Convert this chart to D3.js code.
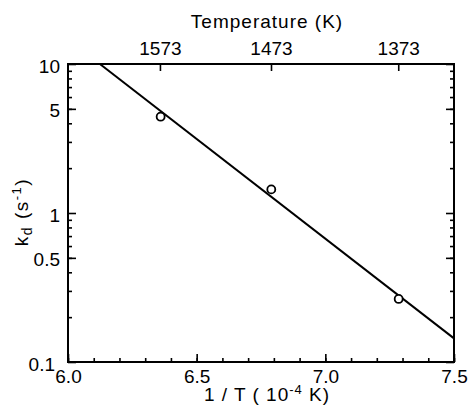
<!DOCTYPE html>
<html>
<head>
<meta charset="utf-8">
<script src="https://cdn.jsdelivr.net/npm/d3@7"></script>
<style>
  body { margin: 0; background: #fff; }
  svg { display: block; font-family: "Liberation Sans", Arial, sans-serif; }
</style>
</head>
<body>
<div id="chart"></div>
<script>
// measured points: 1/T (10^-4 K^-1) and kd (s^-1)
const invT = [6.36, 6.79, 7.285];
const kd = [4.43, 1.44, 0.265];

// fitted line end points
const fitInvT = [6.124, 7.5];
const fitKd = [10, 0.144];

const xTicks = [6.0, 6.5, 7.0, 7.5];
const yTicks = [0.1, 0.5, 1, 5, 10];
const tempTicks = [1573, 1473, 1373];

const width = 476;
const height = 406;
const marginTop = 64;
const marginRight = 22;
const marginBottom = 44;
const marginLeft = 68;

const svg = d3.select("#chart")
    .append("svg")
    .attr("width", width)
    .attr("height", height)
    .attr("viewBox", [0, 0, width, height]);

const x = d3.scaleLinear([6.0, 7.5], [marginLeft, width - marginRight]);
const y = d3.scaleLog([0.1, 10], [height - marginBottom, marginTop]);

const minorX = d3.range(60, 76).map(d => d / 10);
const minorY = [];
[0.1, 1].forEach(dec => d3.range(2, 10).forEach(m => minorY.push(+(dec * m).toFixed(2))));

const fontSize = 19;

function styleAxis(g) {
    g.select(".domain").remove();
    g.selectAll(".tick line").attr("stroke", "#000").attr("stroke-width", 1.6);
    g.selectAll(".tick text").attr("fill", "#000").attr("font-size", fontSize)
        .attr("font-family", "Liberation Sans, Arial, sans-serif");
}

// bottom axis: minor + major ticks pointing inward
svg.append("g")
    .attr("transform", `translate(0,${height - marginBottom})`)
    .call(d3.axisBottom(x).tickValues(minorX).tickSize(-4).tickFormat(""))
    .call(styleAxis);
svg.append("g")
    .attr("transform", `translate(0,${height - marginBottom})`)
    .call(d3.axisBottom(x).tickValues(xTicks).tickSize(-8).tickFormat(d3.format(".1f")))
    .call(styleAxis)
    .call(g => g.selectAll(".tick text").attr("y", 21).attr("dy", 0));

// left axis
svg.append("g")
    .attr("transform", `translate(${marginLeft},0)`)
    .call(d3.axisLeft(y).tickValues(minorY).tickSize(-4).tickFormat(""))
    .call(styleAxis);
svg.append("g")
    .attr("transform", `translate(${marginLeft},0)`)
    .call(d3.axisLeft(y).tickValues(yTicks).tickSize(-8).tickFormat(d => String(d)))
    .call(styleAxis)
    .call(g => g.selectAll(".tick text").attr("x", -8).attr("dy", 0).attr("y", 8))
    .call(g => g.selectAll(".tick text").filter(d => d === 0.1).attr("x", -13));

// right axis
svg.append("g")
    .attr("transform", `translate(${width - marginRight},0)`)
    .call(d3.axisRight(y).tickValues(minorY).tickSize(-4).tickFormat(""))
    .call(styleAxis);
svg.append("g")
    .attr("transform", `translate(${width - marginRight},0)`)
    .call(d3.axisRight(y).tickValues(yTicks).tickSize(-8).tickFormat(""))
    .call(styleAxis);

// top axis: temperature
svg.append("g")
    .attr("transform", `translate(0,${marginTop})`)
    .call(d3.axisTop(x).tickValues(tempTicks.map(t => 1e4 / t)).tickSize(-7)
        .tickFormat((d, i) => tempTicks[i]))
    .call(styleAxis)
    .call(g => g.selectAll(".tick text").attr("y", -9).attr("dy", 0));

// frame
svg.append("rect")
    .attr("x", marginLeft)
    .attr("y", marginTop)
    .attr("width", width - marginLeft - marginRight)
    .attr("height", height - marginTop - marginBottom)
    .attr("fill", "none")
    .attr("stroke", "#000")
    .attr("stroke-width", 2);

// fit line
const line = d3.line()
    .x(d => x(d[0]))
    .y(d => y(d[1]));
svg.append("path")
    .attr("d", line(d3.zip(fitInvT, fitKd)))
    .attr("fill", "none")
    .attr("stroke", "#000")
    .attr("stroke-width", 2);

// data points
svg.append("g")
    .selectAll("circle")
    .data(d3.zip(invT, kd))
    .join("circle")
    .attr("cx", d => x(d[0]))
    .attr("cy", d => y(d[1]))
    .attr("r", 4)
    .attr("fill", "#fff")
    .attr("stroke", "#000")
    .attr("stroke-width", 1.8);

// titles
svg.append("text")
    .attr("x", 267)
    .attr("y", 28)
    .attr("text-anchor", "middle")
    .attr("font-size", fontSize)
    .attr("letter-spacing", 1)
    .text("Temperature (K)");

const xt = svg.append("text")
    .attr("x", 267)
    .attr("y", 401)
    .attr("text-anchor", "middle")
    .attr("font-size", fontSize)
    .attr("letter-spacing", 1);
xt.append("tspan").text("1 / T ( 10");
xt.append("tspan").attr("font-size", 13).attr("dy", -7).text("-4");
xt.append("tspan").attr("dy", 7).text(" K)");

const yt = svg.append("text")
    .attr("transform", "translate(28,212) rotate(-90)")
    .attr("text-anchor", "middle")
    .attr("font-size", fontSize)
    .attr("letter-spacing", 1.5);
yt.append("tspan").text("k");
yt.append("tspan").attr("font-size", 14).attr("dy", 4).text("d");
yt.append("tspan").attr("dy", -4).text(" (s");
yt.append("tspan").attr("font-size", 13).attr("dy", -7).text("-1");
yt.append("tspan").attr("dy", 7).text(")");
</script>
</body>
</html>
